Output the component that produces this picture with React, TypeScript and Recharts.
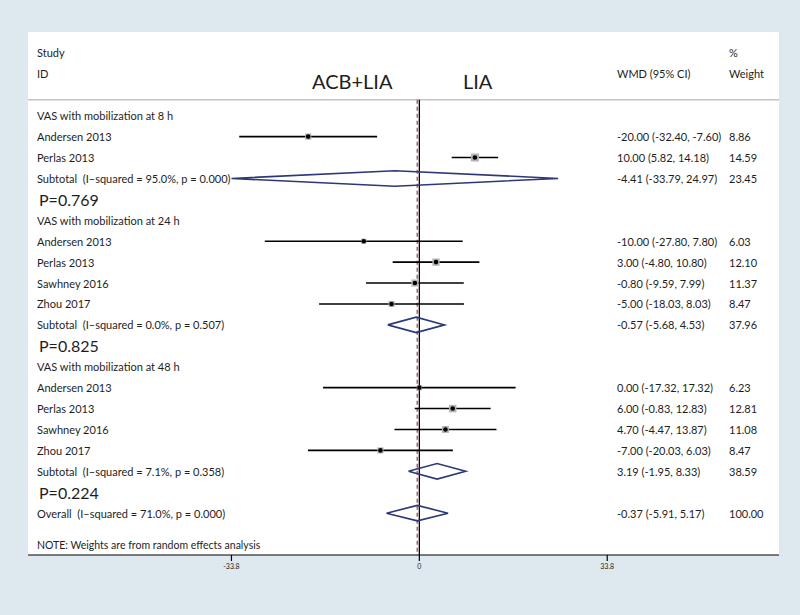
import React from "react";
import {
  ComposedChart,
  XAxis,
  YAxis,
  Scatter,
  ReferenceLine,
  ReferenceArea,
} from "recharts";

// row labels, top to bottom (row index = position in this list)
const rowLabels = [
  "VAS with mobilization at 8 h",
  "Andersen 2013",
  "Perlas 2013",
  "Subtotal  (I\u2013squared = 95.0%, p = 0.000)",
  "P=0.769",
  "VAS with mobilization at 24 h",
  "Andersen 2013",
  "Perlas 2013",
  "Sawhney 2016",
  "Zhou 2017",
  "Subtotal  (I\u2013squared = 0.0%, p = 0.507)",
  "P=0.825",
  "VAS with mobilization at 48 h",
  "Andersen 2013",
  "Perlas 2013",
  "Sawhney 2016",
  "Zhou 2017",
  "Subtotal  (I\u2013squared = 7.1%, p = 0.358)",
  "P=0.224",
  "Overall  (I\u2013squared = 71.0%, p = 0.000)",
];
const pRows = [4, 11, 18];

// individual studies
const studyRow = [1, 2, 6, 7, 8, 9, 13, 14, 15, 16];
const studyWmd = [-20, 10, -10, 3, -0.8, -5, 0, 6, 4.7, -7];
const studyLow = [-32.4, 5.82, -27.8, -4.8, -9.59, -18.03, -17.32, -0.83, -4.47, -20.03];
const studyHigh = [-7.6, 14.18, 7.8, 10.8, 7.99, 8.03, 17.32, 12.83, 13.87, 6.03];
const studyWeight = [8.86, 14.59, 6.03, 12.1, 11.37, 8.47, 6.23, 12.81, 11.08, 8.47];

// pooled estimates (subtotals + overall)
const pooledRow = [3, 10, 17, 19];
const pooledWmd = [-4.41, -0.57, 3.19, -0.37];
const pooledLow = [-33.79, -5.68, -1.95, -5.91];
const pooledHigh = [24.97, 4.53, 8.33, 5.17];
const pooledWeight = [23.45, 37.96, 38.59, 100];

const xTicks = [-33.8, 0, 33.8];
const overallWmd = -0.37;

const FONT = "Lato, 'Noto Sans', sans-serif";
const TXT = "#1e1e1e";

const fmt = (v: number) => (v < 0 ? "-" : "") + Math.abs(v).toFixed(2);

const studies = studyRow.map((r, i) => ({
  x: studyWmd[i],
  y: r,
  lo: studyLow[i],
  hi: studyHigh[i],
  w: studyWeight[i],
}));

const diamonds = pooledRow.map((r, i) => [
  { x: pooledLow[i], y: r },
  { x: pooledWmd[i], y: r - 0.37 },
  { x: pooledHigh[i], y: r },
  { x: pooledWmd[i], y: r + 0.37 },
  { x: pooledLow[i], y: r },
]);

// right-hand columns keyed by row
const ciText: Record<number, string> = {};
const wtText: Record<number, string> = {};
studyRow.forEach((r, i) => {
  ciText[r] = `${fmt(studyWmd[i])} (${fmt(studyLow[i])}, ${fmt(studyHigh[i])})`;
  wtText[r] = studyWeight[i].toFixed(2);
});
pooledRow.forEach((r, i) => {
  ciText[r] = `${fmt(pooledWmd[i])} (${fmt(pooledLow[i])}, ${fmt(pooledHigh[i])})`;
  wtText[r] = pooledWeight[i].toFixed(2);
});

const HEAD_TOP = -3;
const HEAD_ID = -2;
const HEAD_GROUP = -1.66;
const DIVIDER = -0.76;
const NOTE_ROW = 20.5;
const tickRows = [HEAD_TOP, HEAD_GROUP, HEAD_ID, ...rowLabels.map((_, i) => i), NOTE_ROW];

const RowTick = (props: any) => {
  const { y, payload } = props;
  const v = payload.value;
  const base = { fontFamily: FONT, fill: TXT, dominantBaseline: "central" as const };
  if (v === HEAD_TOP) {
    return (
      <g>
        <text x={37} y={y} fontSize={11} {...base}>Study</text>
        <text x={729} y={y} fontSize={11} {...base}>%</text>
      </g>
    );
  }
  if (v === HEAD_ID) {
    return (
      <g>
        <text x={37} y={y} fontSize={11} {...base}>ID</text>
        <text x={617} y={y} fontSize={11} {...base}>WMD (95% CI)</text>
        <text x={729} y={y} fontSize={11} {...base}>Weight</text>
      </g>
    );
  }
  if (v === HEAD_GROUP) {
    return (
      <g>
        <text x={312} y={y} fontSize={20} {...base}>ACB+LIA</text>
        <text x={463} y={y} fontSize={20} {...base}>LIA</text>
      </g>
    );
  }
  if (v === NOTE_ROW) {
    return (
      <text x={37} y={y} fontSize={10.5} {...base}>
        NOTE: Weights are from random effects analysis
      </text>
    );
  }
  const isP = pRows.includes(v);
  return (
    <g>
      <text
        x={isP ? 39 : 37}
        y={y}
        fontSize={isP ? 16 : 11}
        style={{ whiteSpace: "pre" }}
        {...base}
      >
        {rowLabels[v]}
      </text>
      {ciText[v] && (
        <text x={617} y={y} fontSize={11} {...base}>{ciText[v]}</text>
      )}
      {wtText[v] && (
        <text x={729} y={y} fontSize={11} {...base}>{wtText[v]}</text>
      )}
    </g>
  );
};

const StudyMark = (props: any) => {
  const { cx, cy, payload } = props;
  const s = 2.1 * Math.sqrt(payload.w);
  return (
    <g>
      <rect x={cx - s / 2} y={cy - s / 2} width={s} height={s} fill="#b4b4b4" />
      <circle cx={cx} cy={cy} r={2.3} fill="#000" />
    </g>
  );
};

export default function App() {
  return (
    <div
      style={{
        position: "absolute",
        left: 0,
        top: 0,
        width: 800,
        height: 615,
        background: "#dde9ef",
      }}
    >
      <ComposedChart
        width={800}
        height={615}
        margin={{ top: 32, right: 21, bottom: 40, left: 27 }}
      >
        <XAxis
          type="number"
          dataKey="x"
          domain={[-70.4, 64.7]}
          allowDataOverflow
          ticks={xTicks}
          interval={0}
          tickFormatter={(v: number) => String(v)}
          tickSize={6}
          tickMargin={3}
          height={20}
          tick={{ fontSize: 7, fill: TXT, fontFamily: FONT }}
          tickLine={{ stroke: "#000", strokeWidth: 1.2 }}
          stroke="#000"
          strokeWidth={1.2}
        />
        <YAxis
          type="number"
          dataKey="y"
          domain={[-4, 21]}
          reversed
          allowDataOverflow
          width={1}
          axisLine={false}
          tickLine={false}
          ticks={tickRows}
          interval={0}
          tick={<RowTick />}
        />
        <ReferenceArea
          x1={-70.4}
          x2={64.7}
          y1={-4}
          y2={21}
          fill="#ffffff"
          fillOpacity={1}
          stroke="none"
        />
        <ReferenceLine y={DIVIDER} stroke="#c4c4c4" strokeWidth={1.5} />
        <ReferenceLine
          segment={[
            { x: 0, y: DIVIDER },
            { x: 0, y: 21 },
          ]}
          stroke="#000"
          strokeWidth={1.3}
        />
        <ReferenceLine
          segment={[
            { x: overallWmd, y: DIVIDER },
            { x: overallWmd, y: 21 },
          ]}
          stroke="#a8686e"
          strokeWidth={1.6}
          strokeDasharray="4 3"
        />
        {studies.map((s, i) => (
          <ReferenceLine
            key={"ci" + i}
            segment={[
              { x: s.lo, y: s.y },
              { x: s.hi, y: s.y },
            ]}
            stroke="#000"
            strokeWidth={1.6}
          />
        ))}
        {diamonds.map((d, i) => (
          <Scatter
            key={"dm" + i}
            data={d}
            line={{ stroke: "#2d3877", strokeWidth: 1.6 }}
            lineType="joint"
            shape={() => <g />}
            fill="none"
            isAnimationActive={false}
          />
        ))}
        <Scatter
          data={studies}
          shape={<StudyMark />}
          isAnimationActive={false}
        />
      </ComposedChart>
    </div>
  );
}
